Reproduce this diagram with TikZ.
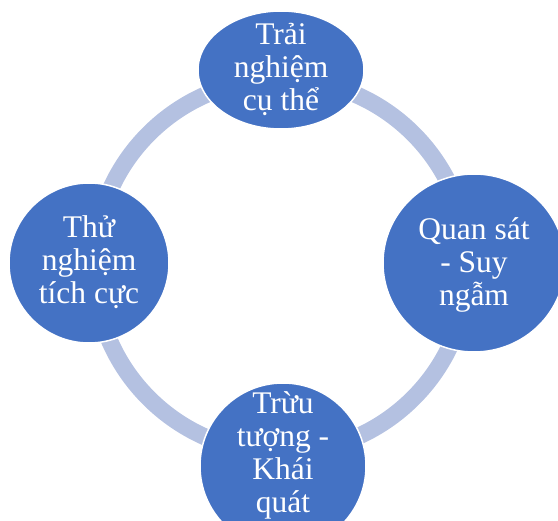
\documentclass[tikz,border=0pt]{standalone}
\usepackage{fontspec}
\setmainfont{Liberation Serif}
\usetikzlibrary{shapes.geometric}
\definecolor{nodeblue}{RGB}{68,114,196}
\definecolor{ringblue}{RGB}{180,193,225}
\tikzset{
  stage/.style={ellipse, fill=nodeblue, draw=white, line width=1.5pt, inner sep=0pt},
  stagetext/.style={text=white, align=center, font=\fontsize{31.5}{33}\selectfont, inner sep=0pt},
  ring/.style={draw=ringblue, line width=17pt}
}
\begin{document}
\begin{tikzpicture}[x=1pt,y=-1pt]
\useasboundingbox (0,0) rectangle (558,521);
\begin{scope}
\clip (0,0) rectangle (558,521);
\coordinate (c) at (281,266);
\draw[ring] (c) circle[radius=187];
\node[stage, minimum width=166pt, minimum height=118pt] (top) at (281,70) {};
\node[stage, minimum width=182pt, minimum height=178pt] (right) at (474,263) {};
\node[stage, minimum width=166pt, minimum height=166pt] (bottom) at (283,466) {};
\node[stage, minimum width=160pt, minimum height=160pt] (left) at (89,263) {};
\node[stagetext] (toptext) at (281,69) {Trải\\nghiệm\\cụ thể};
\node[stagetext] (righttext) at (474,265) {Quan sát\\- Suy\\ngẫm};
\node[stagetext] (bottomtext) at (283,455) {Trừu\\tượng -\\Khái\\quát};
\node[stagetext] (lefttext) at (89,262) {Thử\\nghiệm\\tích cực};
\end{scope}
\end{tikzpicture}
\end{document}
